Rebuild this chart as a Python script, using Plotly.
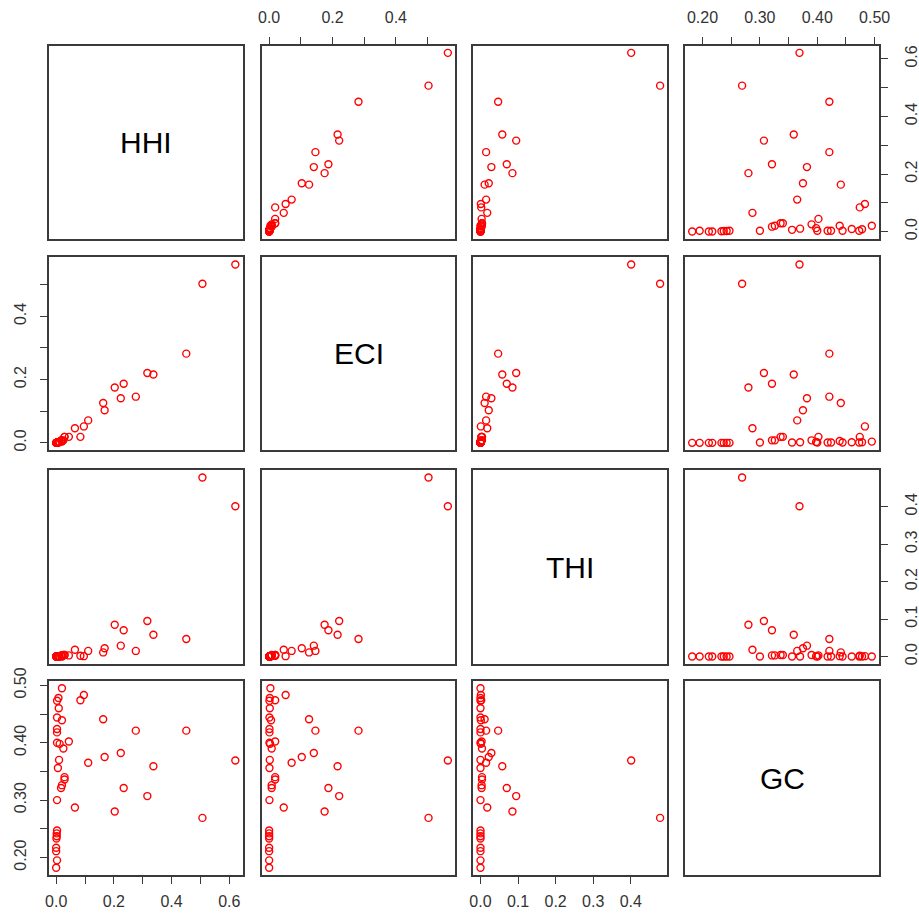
import plotly.graph_objects as go

# ---- data ----
names = ["HHI", "ECI", "THI", "GC"]

HHI = [0.084, 0.096, 0.163, 0.276, 0.451, 0.111, 0.168, 0.224, 0.337, 0.621,
       0.234, 0.316, 0.203, 0.507, 0.065, 0.044,
       0.020, 0.008, 0.003, 0.009, 0.003, 0.020, 0.003, 0.003, 0.003, 0.012,
       0.025, 0.010, 0.006, 0.029, 0.029, 0.020, 0.017, 0.003, 0.003, 0.002,
       0.002, 0.001, 0.000, 0.000, 0.003, 0.000]
ECI = [0.019, 0.052, 0.126, 0.146, 0.282, 0.071, 0.103, 0.141, 0.216, 0.564,
       0.187, 0.221, 0.175, 0.503, 0.046, 0.019,
       0.004, 0.002, 0.001, 0.002, 0.001, 0.006, 0.001, 0.001, 0.001, 0.003,
       0.008, 0.002, 0.001, 0.019, 0.019, 0.008, 0.008, 0.001, 0.000, 0.000,
       0.000, 0.000, 0.000, 0.000, 0.000, 0.000]
THI = [0.002, 0.001, 0.011, 0.015, 0.047, 0.015, 0.022, 0.029, 0.058, 0.401,
       0.070, 0.095, 0.085, 0.478, 0.018, 0.003,
       0.000, 0.000, 0.000, 0.000, 0.000, 0.001, 0.000, 0.000, 0.000, 0.001,
       0.004, 0.000, 0.000, 0.004, 0.004, 0.003, 0.003, 0.000, 0.000, 0.000,
       0.000, 0.000, 0.000, 0.000, 0.000, 0.000]
GC = [0.474, 0.483, 0.441, 0.421, 0.421, 0.365, 0.375, 0.382, 0.359, 0.369,
      0.321, 0.307, 0.280, 0.269, 0.287, 0.402,
      0.495, 0.478, 0.473, 0.460, 0.444, 0.439, 0.424, 0.418, 0.400, 0.398,
      0.390, 0.370, 0.356, 0.340, 0.336, 0.326, 0.321, 0.300, 0.247, 0.242,
      0.237, 0.233, 0.217, 0.211, 0.195, 0.182]

tick_vals = {
    "HHI": [0.0, 0.1, 0.2, 0.3, 0.4, 0.5, 0.6],
    "ECI": [0.0, 0.1, 0.2, 0.3, 0.4, 0.5],
    "THI": [0.0, 0.1, 0.2, 0.3, 0.4],
    "GC": [0.20, 0.25, 0.30, 0.35, 0.40, 0.45, 0.50],
}
tick_text = {
    "HHI": ["0.0", "", "0.2", "", "0.4", "", "0.6"],
    "ECI": ["0.0", "", "0.2", "", "0.4", ""],
    "THI": ["0.0", "0.1", "0.2", "0.3", "0.4"],
    "GC": ["0.20", "", "0.30", "", "0.40", "", "0.50"],
}

data = {"HHI": HHI, "ECI": ECI, "THI": THI, "GC": GC}

# ---- layout geometry (pixels) ----
W, H = 919, 918
col_px = [(49, 242.5), (262, 455), (473.3, 667.3), (685, 879)]
row_px = [(45.7, 238.7), (257.3, 450), (470.3, 663.7), (681, 875)]

FONT = "Liberation Sans, Arial, sans-serif"
LINE = "#3a3a3a"
TXT = "#333333"


def rng(v):
    lo, hi = min(v), max(v)
    pad = 0.04 * (hi - lo)
    return [lo - pad, hi + pad]


fig = go.Figure()
layout = dict(
    width=W, height=H, margin=dict(l=0, r=0, t=0, b=0, autoexpand=False),
    paper_bgcolor="white", plot_bgcolor="white", showlegend=False,
    font=dict(family=FONT, color=TXT),
)
annotations = []

n = len(names)
for r in range(n):
    for c in range(n):
        idx = r * n + c + 1
        xs = "" if idx == 1 else str(idx)
        xname, yname = names[c], names[r]
        xdom = [col_px[c][0] / W, col_px[c][1] / W]
        ydom = [1 - row_px[r][1] / H, 1 - row_px[r][0] / H]

        show_x = (r == 0 and c in (1, 3)) or (r == n - 1 and c in (0, 2))
        show_y = (c == 0 and r in (1, 3)) or (c == n - 1 and r in (0, 2))

        xa = dict(domain=xdom, anchor="y" + xs, range=rng(data[xname]),
                  showgrid=False, zeroline=False, showline=True, mirror=True,
                  linecolor=LINE, linewidth=1.6, fixedrange=True,
                  automargin=False)
        ya = dict(domain=ydom, anchor="x" + xs, range=rng(data[yname]),
                  showgrid=False, zeroline=False, showline=True, mirror=True,
                  linecolor=LINE, linewidth=1.6, fixedrange=True,
                  automargin=False)
        if show_x:
            top = (r == 0)
            xa.update(side="top" if top else "bottom", ticks="outside",
                      ticklen=7, tickwidth=1.4, tickcolor=LINE,
                      tickvals=tick_vals[xname], ticktext=tick_text[xname],
                      showticklabels=True, tickfont=dict(size=16, color=TXT),
                      ticklabelstandoff=8 if top else 4)
        else:
            xa.update(showticklabels=False, ticks="")
        if show_y:
            right = (c == n - 1)
            ya.update(side="right" if right else "left", ticks="outside",
                      ticklen=7, tickwidth=1.4, tickcolor=LINE,
                      tickvals=tick_vals[yname], ticktext=tick_text[yname],
                      showticklabels=True, tickangle=-90,
                      tickfont=dict(size=16, color=TXT),
                      ticklabelstandoff=10 if right else 8)
        else:
            ya.update(showticklabels=False, ticks="")
        layout["xaxis" + xs] = xa
        layout["yaxis" + xs] = ya

        if r == c:
            fig.add_trace(go.Scatter(x=[], y=[], mode="markers",
                                     xaxis="x" + xs, yaxis="y" + xs,
                                     hoverinfo="skip"))
            annotations.append(dict(
                text=names[r], x=0.5, y=0.5, xref="x" + xs + " domain",
                yref="y" + xs + " domain", showarrow=False,
                font=dict(size=30, color="black", family=FONT)))
        else:
            fig.add_trace(go.Scatter(
                x=data[xname], y=data[yname], mode="markers",
                xaxis="x" + xs, yaxis="y" + xs,
                marker=dict(symbol="circle-open", color="red", size=7,
                            line=dict(width=1.4, color="red")),
                hoverinfo="skip"))

layout["annotations"] = annotations
fig.update_layout(**layout)
fig.write_html("out.html", config={"displayModeBar": False},
               post_script="document.body.style.margin='0';")
